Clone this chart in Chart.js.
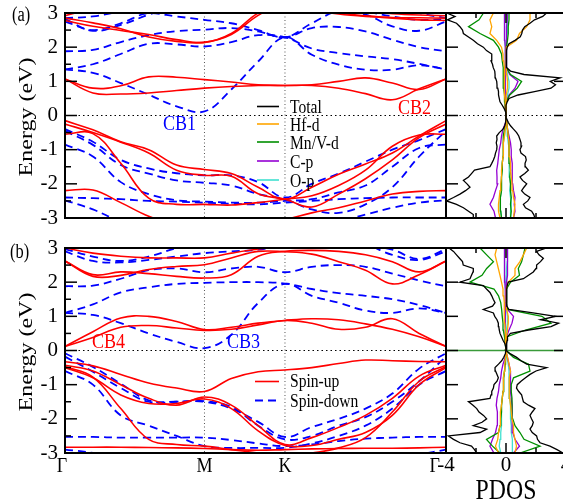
<!DOCTYPE html>
<html>
<head>
<meta charset="utf-8">
<script src="https://cdn.jsdelivr.net/npm/chart.js@4.4.1/dist/chart.umd.min.js"></script>
<style>
html, body { margin: 0; padding: 0; width: 563px; height: 502px; overflow: hidden; background: #fff; }
.box { position: absolute; }
.t { position: absolute; font-family: "Liberation Serif", "Times New Roman", serif; white-space: nowrap;
     transform: scaleX(0.82); transform-origin: 0 50%; color: #000; }
.rot { position: absolute; font-family: "Liberation Serif", "Times New Roman", serif; font-size: 24px; line-height: 24px;
       white-space: nowrap; transform: translate(-50%, -50%) rotate(-90deg) scaleY(0.82); }
</style>
</head>
<body>
<div class="box" style="left:0;top:0;width:563px;height:235px"><canvas id="bandA" width="563" height="235"></canvas></div>
<div class="box" style="left:0;top:235px;width:563px;height:267px"><canvas id="bandB" width="563" height="267"></canvas></div>
<div class="box" style="left:426px;top:0;width:140px;height:235px"><canvas id="dosA" width="140" height="235"></canvas></div>
<div class="box" style="left:426px;top:235px;width:140px;height:267px"><canvas id="dosB" width="140" height="267"></canvas></div>

<div class="t" style="left:12px;top:4px;font-size:20px;line-height:20px">(a)</div>
<div class="t" style="left:10px;top:241px;font-size:20px;line-height:20px">(b)</div>
<div class="rot" style="left:25px;top:117px">Energy (eV)</div>
<div class="rot" style="left:25px;top:352px">Energy (eV)</div>

<svg style="position:absolute;left:0;top:0" width="563" height="502">
  <line x1="257" y1="106.5" x2="279" y2="106.5" stroke="#000" stroke-width="1.6"/>
  <line x1="257" y1="124" x2="279" y2="124" stroke="#ffa500" stroke-width="1.6"/>
  <line x1="257" y1="142" x2="279" y2="142" stroke="#008f00" stroke-width="1.6"/>
  <line x1="257" y1="161" x2="279" y2="161" stroke="#9400d3" stroke-width="1.6"/>
  <line x1="257" y1="180" x2="279" y2="180" stroke="#40e0d0" stroke-width="1.6"/>
  <line x1="255" y1="381.5" x2="279" y2="381.5" stroke="#ff0000" stroke-width="1.6"/>
  <line x1="255" y1="400.5" x2="281" y2="400.5" stroke="#0000ff" stroke-width="1.8" stroke-dasharray="8,5"/>
</svg>
<div class="t" style="left:290px;top:97px;font-size:19px;line-height:19px">Total</div>
<div class="t" style="left:290px;top:114.5px;font-size:19px;line-height:19px">Hf-d</div>
<div class="t" style="left:290px;top:132.5px;font-size:19px;line-height:19px">Mn/V-d</div>
<div class="t" style="left:290px;top:151.5px;font-size:19px;line-height:19px">C-p</div>
<div class="t" style="left:290px;top:170.5px;font-size:19px;line-height:19px">O-p</div>
<div class="t" style="left:290px;top:371px;font-size:19px;line-height:19px">Spin-up</div>
<div class="t" style="left:290px;top:390.5px;font-size:19px;line-height:19px">Spin-down</div>

<div class="t" style="left:163px;top:112px;font-size:22px;line-height:22px;color:#0000ff">CB1</div>
<div class="t" style="left:398px;top:95.5px;font-size:22px;line-height:22px;color:#ff0000">CB2</div>
<div class="t" style="left:92px;top:329.5px;font-size:22px;line-height:22px;color:#ff0000">CB4</div>
<div class="t" style="left:227px;top:329.5px;font-size:22px;line-height:22px;color:#0000ff">CB3</div>
<div class="t" style="left:506px;top:474.5px;font-size:29px;line-height:29px;transform:translate(-50%,0) scaleX(0.82);transform-origin:50% 50%">PDOS</div>

<script>
// k-path Γ-M-K-Γ (hexagonal, path length units)
const kPath = [0, 0.1155, 0.2309, 0.3464, 0.4619, 0.5774, 0.6885, 0.7996, 0.9107, 1.0218, 1.1329, 1.2440, 1.3551, 1.4662, 1.5773];
const kLabels = ['Γ', 'M', 'K', 'Γ'];
const kLabelPos = [0, 0.5774, 0.9107, 1.5773];

// (a) spin-up bands
const upA1 = [1.07, 0.66, 0.63, 0.66, 0.73, 0.80, 0.85, 0.88, 0.88, 0.88, 0.80, 0.64, 0.46, 0.78, 1.07];
const upA2 = [1.07, 0.80, 0.87, 1.13, 1.12, 1.05, 0.98, 0.90, 0.88, 0.90, 1.00, 1.10, 0.95, 0.76, 1.07];
const upA3 = [2.85, 2.71, 2.54, 2.30, 2.17, 2.14, 2.37, 2.93, 3.30, 3.10, 2.97, 2.90, 2.87, 2.86, 2.85];
const upA4 = [2.78, 2.61, 2.49, 2.37, 2.22, 2.14, 2.40, 3.00, 3.30, 3.15, 3.00, 2.92, 2.85, 2.80, 2.78];
const upA5 = [2.92, 3.15, 3.40, 3.50, 3.50, 3.50, 3.50, 3.50, 3.50, 3.40, 3.20, 3.05, 2.98, 2.94, 2.92];
const upA6 = [-0.15, -0.42, -0.77, -1.00, -1.45, -1.58, -1.70, -2.10, -2.45, -2.10, -1.72, -1.42, -1.10, -0.60, -0.15];
const upA7 = [-0.25, -0.50, -0.78, -1.10, -1.60, -1.75, -1.78, -2.29, -2.45, -2.68, -2.30, -1.85, -1.30, -0.65, -0.25];
const upA8 = [-0.55, -0.53, -1.40, -2.42, -2.60, -2.60, -2.62, -2.55, -2.45, -2.35, -2.05, -1.60, -0.90, -0.57, -0.55];
const upA9 = [-2.20, -2.18, -2.55, -2.95, -3.20, -3.30, -3.30, -3.20, -3.05, -2.85, -2.70, -2.50, -2.30, -2.22, -2.20];

// (a) spin-down bands
const dnA1 = [1.35, 1.25, 0.95, 0.61, 0.27, 0.12, 0.76, 1.58, 2.29, 1.78, 1.49, 1.34, 1.34, 1.47, 1.35];
const dnA2 = [1.88, 1.92, 2.15, 2.35, 2.47, 2.51, 2.56, 2.46, 2.29, 2.56, 2.59, 2.46, 2.22, 2.00, 1.88];
const dnA3 = [1.35, 1.50, 1.80, 2.10, 2.08, 2.02, 2.15, 2.35, 2.29, 1.96, 1.83, 1.73, 1.65, 1.51, 1.35];
const dnA4 = [2.75, 2.50, 2.70, 3.00, 2.90, 2.80, 2.70, 2.50, 2.29, 2.70, 3.05, 2.95, 2.61, 2.48, 2.75];
const dnA5 = [2.82, 2.48, 2.65, 2.95, 3.20, 3.30, 3.40, 3.40, 3.40, 3.30, 3.20, 3.05, 2.90, 2.80, 2.82];
const dnA6 = [2.85, 2.90, 3.05, 3.20, 3.30, 3.30, 3.30, 3.30, 3.30, 3.30, 3.30, 3.30, 3.20, 3.00, 2.85];
const dnA7 = [-0.40, -0.77, -1.30, -1.55, -1.69, -1.75, -1.75, -1.95, -2.40, -2.00, -1.70, -1.35, -1.00, -0.72, -0.40];
const dnA8 = [-0.45, -0.86, -1.45, -1.70, -1.90, -1.97, -2.05, -2.30, -2.45, -2.75, -2.85, -2.60, -2.10, -1.20, -0.45];
const dnA9 = [-0.85, -1.20, -1.95, -2.30, -2.48, -2.52, -2.55, -2.55, -2.50, -2.45, -2.25, -2.05, -1.50, -0.95, -0.85];
const dnA10 = [-2.40, -2.42, -2.45, -2.50, -2.52, -2.55, -2.58, -2.60, -2.55, -2.50, -2.45, -2.42, -2.40, -2.40, -2.40];
const dnA11 = [-2.48, -2.75, -3.10, -3.30, -3.30, -3.30, -3.30, -3.20, -3.10, -3.20, -3.10, -2.90, -2.70, -2.55, -2.48];

// (b) spin-up bands
const upB1 = [0.12, 0.55, 0.95, 1.00, 0.85, 0.61, 0.68, 0.80, 0.88, 0.93, 0.90, 0.78, 0.62, 0.40, 0.12];
const upB2 = [0.12, 0.38, 0.68, 0.73, 0.66, 0.59, 0.62, 0.75, 0.88, 0.80, 0.62, 0.68, 0.93, 0.50, 0.12];
const upB3 = [3.00, 2.85, 2.76, 2.71, 2.71, 2.71, 2.85, 2.97, 3.05, 3.10, 3.15, 3.20, 3.10, 3.05, 3.00];
const upB4 = [2.62, 2.17, 2.20, 2.37, 2.46, 2.51, 2.71, 2.90, 2.89, 2.82, 2.60, 2.35, 1.95, 2.22, 2.62];
const upB5 = [2.62, 2.22, 2.30, 2.25, 2.17, 2.12, 2.22, 2.76, 2.90, 2.93, 2.90, 2.80, 2.60, 2.30, 2.62];
const upB6 = [-0.33, -0.45, -0.70, -0.95, -1.10, -1.20, -0.82, -0.62, -0.57, -0.50, -0.38, -0.28, -0.30, -0.32, -0.33];
const upB7 = [-0.43, -0.60, -1.00, -1.40, -1.60, -1.36, -1.60, -2.20, -2.75, -2.55, -2.25, -1.90, -1.40, -0.75, -0.43];
const upB8 = [-0.50, -0.80, -1.30, -1.55, -1.55, -1.42, -1.70, -2.35, -2.78, -2.78, -2.60, -2.40, -1.90, -1.00, -0.50];
const upB9 = [-0.47, -0.78, -1.70, -2.60, -2.75, -2.80, -2.90, -3.00, -3.10, -3.00, -2.85, -2.55, -1.80, -0.90, -0.47];
const upB10 = [-2.83, -2.83, -2.83, -2.84, -2.85, -2.87, -2.90, -2.92, -2.90, -2.88, -2.87, -2.86, -2.86, -2.85, -2.83];

// (b) spin-down bands
const dnB1 = [1.10, 1.04, 0.80, 0.50, 0.25, 0.07, 0.46, 1.39, 1.95, 1.60, 1.40, 1.17, 1.10, 1.23, 1.10];
const dnB2 = [1.10, 1.35, 1.70, 1.85, 1.95, 1.98, 2.00, 2.00, 1.96, 1.80, 1.68, 1.60, 1.50, 1.33, 1.10];
const dnB3 = [1.88, 1.90, 2.10, 2.35, 2.40, 2.29, 2.40, 2.45, 2.29, 2.45, 2.50, 2.45, 2.25, 2.05, 1.88];
const dnB4 = [2.97, 2.75, 2.62, 2.75, 3.00, 3.20, 3.20, 3.20, 3.20, 3.20, 3.20, 3.10, 2.95, 2.68, 2.97];
const dnB5 = [2.90, 2.62, 2.58, 2.65, 2.75, 2.85, 2.90, 2.95, 3.10, 3.20, 3.20, 3.10, 2.80, 2.65, 2.90];
const dnB6 = [-0.08, -0.48, -0.97, -1.46, -1.50, -1.50, -1.70, -2.09, -2.53, -2.24, -2.00, -1.70, -1.26, -0.53, -0.08];
const dnB7 = [-0.18, -0.62, -1.10, -1.50, -1.50, -1.48, -1.65, -2.20, -2.60, -2.50, -2.20, -1.95, -1.50, -0.90, -0.18];
const dnB8 = [-0.60, -1.00, -1.90, -2.20, -2.50, -2.80, -2.85, -2.85, -2.85, -2.72, -2.50, -2.20, -1.70, -1.00, -0.60];
const dnB9 = [-2.53, -2.53, -2.55, -2.55, -2.55, -2.55, -2.62, -2.72, -2.80, -2.75, -2.65, -2.58, -2.55, -2.53, -2.53];
const dnB10 = [-2.90, -3.00, -3.20, -3.30, -3.30, -3.30, -3.30, -3.30, -3.30, -3.30, -3.30, -3.30, -3.20, -3.05, -2.90];

// PDOS energy grids
const eFine = [-3.0, -2.9, -2.8, -2.7, -2.6, -2.5, -2.4, -2.3, -2.2, -2.1,
  -2.0, -1.9, -1.8, -1.7, -1.6, -1.5, -1.4, -1.3, -1.2, -1.1,
  -1.0, -0.9, -0.8, -0.7, -0.6, -0.5, -0.4, -0.3, -0.2, -0.1,
  0, 0.1, 0.2, 0.3, 0.4, 0.5, 0.6, 0.7, 0.8, 0.9,
  1.0, 1.1, 1.2, 1.3, 1.4, 1.5, 1.6, 1.7, 1.8, 1.9,
  2.0, 2.1, 2.2, 2.3, 2.4, 2.5, 2.6, 2.7, 2.8, 2.9, 3.0];
const eCoarse = [-3.0, -2.8, -2.6, -2.4, -2.2, -2.0, -1.8, -1.6, -1.4, -1.2, -1.0, -0.8, -0.6, -0.4, -0.2,
  0, 0.2, 0.4, 0.6, 0.8, 1.0, 1.2, 1.4, 1.6, 1.8, 2.0, 2.2, 2.4, 2.6, 2.8, 3.0];

// (a) total DOS, spin-up (+) and spin-down (-)
const totUpA = [1.93, 1.85, 1.71, 1.30, 1.16, 1.45, 1.60, 1.25, 1.04, 1.20,
  1.38, 1.10, 0.93, 1.25, 1.49, 1.30, 1.27, 1.35, 1.30, 1.00,
  0.93, 1.04, 1.00, 0.93, 0.85, 0.71, 0.50, 0.30, 0.15, 0.05,
  0, 0, 0, 0, 0.08, 0.20, 0.80, 1.90, 3.00, 3.30,
  2.95, 3.60, 1.20, 0.30, 0.05, 0.03, 0.03, 0.03, 0.04, 0.05,
  0.08, 0.20, 0.60, 0.95, 1.05, 1.10, 1.25, 1.60, 1.90, 2.45, 2.70];
const totDnA = [-2.20, -2.18, -2.50, -2.84, -3.30, -3.96, -3.50, -3.07, -2.70, -2.40,
  -2.60, -2.84, -2.50, -2.30, -2.10, -1.07, -0.95, -0.84, -0.75, -0.70,
  -0.62, -0.60, -0.65, -0.60, -0.62, -0.45, -0.20, -0.08, -0.03, 0,
  0, -0.02, -0.12, -0.25, -0.40, -0.45, -0.50, -0.50, -0.55, -0.60,
  -0.62, -0.70, -0.73, -0.75, -0.85, -0.90, -1.00, -0.95, -0.95, -1.30,
  -1.51, -1.90, -2.18, -2.50, -2.84, -2.90, -3.07, -3.30, -3.90, -3.40, -3.96];
// (a) projected DOS
const hfUpA = [0.5, 0.55, 0.6, 0.5, 0.45, 0.4, 0.35, 0.3, 0.3, 0.25, 0.2, 0.2, 0.15, 0.1, 0.05, 0, 0, 0, 0.05, 0.1, 0.1, 0.05, 0.02, 0.02, 0.02, 0.03, 0.7, 0.9, 1.38, 1.6, 1.6];
const hfDnA = [-0.4, -0.5, -0.5, -0.45, -0.4, -0.35, -0.3, -0.3, -0.25, -0.2, -0.2, -0.15, -0.1, -0.05, 0, 0, -0.02, -0.05, -0.1, -0.1, -0.1, -0.1, -0.12, -0.15, -0.2, -0.3, -0.62, -1.07, -0.95, -1.07, -0.84];
const mnUpA = [0.3, 0.35, 0.3, 0.35, 0.3, 0.3, 0.25, 0.3, 0.25, 0.2, 0.2, 0.2, 0.15, 0.1, 0.05, 0, 0, 0.03, 0.25, 0.75, 1.04, 0.3, 0.03, 0.02, 0.02, 0.03, 0.1, 0.15, 0.15, 0.2, 0.2];
const mnDnA = [-0.3, -0.35, -0.4, -0.35, -0.3, -0.3, -0.3, -0.25, -0.25, -0.2, -0.2, -0.2, -0.15, -0.1, 0, 0, -0.05, -0.08, -0.1, -0.15, -0.15, -0.2, -0.2, -0.25, -0.3, -0.5, -0.84, -1.73, -2.5, -1.8, -1.5];
const cpUpA = [0.5, 0.6, 0.55, 0.6, 0.5, 0.45, 0.4, 0.45, 0.4, 0.35, 0.35, 0.3, 0.2, 0.1, 0.05, 0, 0, 0.03, 0.2, 0.6, 0.8, 0.25, 0.03, 0.02, 0.02, 0.02, 0.05, 0.05, 0.05, 0.08, 0.08];
const cpDnA = [-0.7, -0.8, -1.07, -0.84, -0.7, -0.55, -0.6, -0.62, -0.55, -0.5, -0.45, -0.35, -0.3, -0.2, -0.02, 0, -0.02, -0.03, -0.04, -0.05, -0.05, -0.05, -0.05, -0.05, -0.05, -0.05, -0.08, -0.1, -0.1, -0.1, -0.1];
const opUpA = [0.3, 0.3, 0.35, 0.3, 0.25, 0.3, 0.25, 0.25, 0.2, 0.2, 0.2, 0.15, 0.1, 0.08, 0.03, 0, 0, 0.02, 0.1, 0.2, 0.2, 0.1, 0.02, 0.02, 0.02, 0.03, 0.05, 0.08, 0.08, 0.1, 0.1];
const opDnA = [-0.3, -0.35, -0.4, -0.35, -0.3, -0.3, -0.3, -0.25, -0.25, -0.2, -0.2, -0.15, -0.1, -0.05, 0, 0, -0.02, -0.02, -0.03, -0.03, -0.03, -0.04, -0.04, -0.05, -0.05, -0.05, -0.08, -0.08, -0.1, -0.1, -0.1];

// (b) total DOS
const totUpB = [3.80, 3.40, 2.93, 2.27, 2.10, 2.04, 1.75, 1.60, 1.75, 1.82,
  1.70, 1.60, 1.75, 1.93, 1.50, 1.16, 1.10, 1.04, 0.85, 0.70,
  0.75, 1.00, 1.30, 1.60, 2.00, 2.71, 1.38, 1.00, 0.71, 0.30,
  0, 0.02, 0.05, 0.08, 0.10, 0.30, 1.50, 3.00, 3.50, 2.30,
  3.30, 1.80, 0.20, 0.05, 0.04, 0.04, 0.05, 0.05, 0.06, 0.08,
  0.15, 1.16, 1.50, 1.82, 2.00, 2.04, 2.30, 2.49, 2.20, 2.04, 2.70];
const totDnB = [-1.95, -2.10, -2.30, -3.07, -3.50, -3.84, -1.73, -1.29, -2.18, -1.60,
  -1.29, -1.50, -1.80, -1.95, -2.20, -2.50, -1.07, -1.00, -0.95, -0.84,
  -0.80, -0.60, -0.51, -0.60, -0.70, -0.73, -0.50, -0.29, -0.15, -0.05,
  0, -0.02, -0.07, -0.20, -0.30, -0.40, -0.45, -0.48, -0.51, -0.60,
  -0.75, -0.84, -1.51, -0.90, -0.73, -0.85, -0.95, -1.07, -1.30, -1.51,
  -3.07, -2.40, -2.30, -2.20, -2.18, -2.85, -2.90, -3.10, -3.30, -3.50, -3.80];
// (b) projected DOS
const hfUpB = [0.6, 0.7, 0.6, 0.5, 0.5, 0.4, 0.35, 0.3, 0.25, 0.2, 0.2, 0.25, 0.3, 0.2, 0.1, 0, 0.02, 0.03, 0.1, 0.15, 0.15, 0.05, 0.02, 0.02, 0.03, 0.15, 0.6, 0.6, 0.93, 1.16, 1.38];
const hfDnB = [-0.5, -0.7, -0.55, -0.5, -0.4, -0.4, -0.35, -0.3, -0.25, -0.2, -0.2, -0.15, -0.1, -0.08, -0.03, 0, -0.02, -0.03, -0.05, -0.08, -0.1, -0.12, -0.12, -0.15, -0.2, -0.3, -0.4, -0.51, -0.62, -0.73, -0.62];
const mnUpB = [0.93, 2.27, 1.2, 0.93, 0.6, 0.45, 0.4, 0.4, 0.4, 0.35, 0.35, 0.5, 1.6, 1.5, 0.5, 0, 0.02, 0.05, 1.3, 3.0, 2.4, 0.1, 0.02, 0.02, 0.05, 0.3, 0.9, 0.82, 1.04, 1.16, 1.27];
const mnDnB = [-0.4, -0.9, -1.3, -0.5, -0.4, -0.35, -0.3, -0.3, -0.25, -0.2, -0.15, -0.15, -0.1, -0.05, -0.03, 0, -0.05, -0.1, -0.18, -0.2, -0.25, -0.29, -0.35, -0.5, -0.8, -2.4, -1.6, -1.29, -0.84, -1.29, -1.73];
const cpUpB = [0.5, 0.9, 0.6, 0.45, 0.45, 0.4, 0.4, 0.4, 0.35, 0.3, 0.3, 0.3, 0.3, 0.2, 0.1, 0, 0.02, 0.05, 0.2, 0.4, 0.5, 0.1, 0.02, 0.02, 0.02, 0.05, 0.1, 0.1, 0.1, 0.1, 0.1];
const cpDnB = [-0.8, -1.07, -0.9, -0.7, -0.6, -0.55, -0.6, -0.65, -0.6, -0.5, -0.45, -0.35, -0.3, -0.2, -0.05, 0, -0.02, -0.03, -0.04, -0.05, -0.05, -0.05, -0.05, -0.05, -0.05, -0.08, -0.1, -0.1, -0.1, -0.1, -0.1];
const opUpB = [0.4, 0.45, 0.4, 0.35, 0.35, 0.3, 0.3, 0.3, 0.25, 0.2, 0.2, 0.2, 0.2, 0.15, 0.05, 0, 0.01, 0.02, 0.05, 0.1, 0.1, 0.03, 0.02, 0.02, 0.02, 0.03, 0.05, 0.06, 0.08, 0.1, 0.1];
const opDnB = [-0.35, -0.45, -0.4, -0.35, -0.3, -0.3, -0.3, -0.3, -0.25, -0.2, -0.2, -0.15, -0.1, -0.08, -0.02, 0, -0.01, -0.02, -0.02, -0.03, -0.03, -0.03, -0.04, -0.05, -0.05, -0.05, -0.08, -0.08, -0.1, -0.1, -0.1];

const FONT = 'Liberation Serif';
const RED = '#ff0000', BLUE = '#0000ff';
const C_TOT = '#000000', C_HF = '#ffa500', C_MN = '#008f00', C_CP = '#9400d3', C_OP = '#40e0d0';

function seg(ctx, x1, y1, x2, y2) {
  ctx.beginPath();
  ctx.moveTo(x1, y1);
  ctx.lineTo(x2, y2);
  ctx.stroke();
}

// dotted guide lines, inward ticks, frame and k-point labels
const bandDecor = {
  id: 'bandDecor',
  beforeDatasetsDraw(chart) {
    const ctx = chart.ctx, a = chart.chartArea, xs = chart.scales.x, ys = chart.scales.y;
    ctx.save();
    ctx.lineWidth = 1;
    ctx.strokeStyle = '#000';
    ctx.setLineDash([1.5, 3]);
    const y0 = ys.getPixelForValue(0);
    seg(ctx, a.left, y0, a.right, y0);
    ctx.strokeStyle = '#555';
    ctx.setLineDash([1, 2.5]);
    [kLabelPos[1], kLabelPos[2]].forEach(function(k) {
      const px = xs.getPixelForValue(k);
      seg(ctx, px, a.top, px, a.bottom);
    });
    ctx.restore();
  },
  afterDatasetsDraw(chart, args, opts) {
    const ctx = chart.ctx, a = chart.chartArea, xs = chart.scales.x, ys = chart.scales.y;
    ctx.save();
    ctx.strokeStyle = '#000';
    ctx.lineWidth = 1.5;
    for (let e = -3; e <= 3; e += 0.5) {
      const py = ys.getPixelForValue(e);
      const len = Number.isInteger(e) ? 12 : 6;
      seg(ctx, a.left, py, a.left + len, py);
    }
    ctx.lineWidth = 2;
    ctx.strokeRect(a.left, a.top, a.right - a.left, a.bottom - a.top);
    if (opts.labels) {
      ctx.fillStyle = '#000';
      ctx.font = '22px "' + FONT + '"';
      ctx.textBaseline = 'middle';
      const shift = [-3, 0, 0, -6];
      kLabels.forEach(function(lab, i) {
        const px = xs.getPixelForValue(kLabelPos[i]) + shift[i];
        ctx.save();
        ctx.translate(px, a.bottom + 13);
        ctx.scale(0.82, 1);
        ctx.textAlign = i === kLabels.length - 1 ? 'right' : 'center';
        ctx.fillText(lab, 0, 0);
        ctx.restore();
      });
    }
    ctx.restore();
  }
};

const dosDecor = {
  id: 'dosDecor',
  beforeDatasetsDraw(chart, args, opts) {
    const ctx = chart.ctx, a = chart.chartArea, ys = chart.scales.y;
    ctx.save();
    const y0 = ys.getPixelForValue(0);
    ctx.strokeStyle = opts.zeroColor;
    ctx.lineWidth = opts.zeroWidth;
    ctx.setLineDash(opts.zeroDash);
    seg(ctx, a.left, y0, a.right, y0);
    ctx.restore();
  },
  afterDatasetsDraw(chart) {
    const ctx = chart.ctx, a = chart.chartArea, xs = chart.scales.x, ys = chart.scales.y;
    ctx.save();
    ctx.strokeStyle = '#000';
    ctx.lineWidth = 1.5;
    for (let e = -3; e <= 3; e += 1) {
      const py = ys.getPixelForValue(e);
      seg(ctx, a.left, py, a.left + 12, py);
      seg(ctx, a.right, py, a.right - 12, py);
    }
    [-2, 0, 2].forEach(function(v) {
      const px = xs.getPixelForValue(v);
      const len = v === 0 ? 10 : 5;
      seg(ctx, px, a.top, px, a.top + len);
      seg(ctx, px, a.bottom, px, a.bottom - len);
    });
    ctx.lineWidth = 2;
    ctx.strokeRect(a.left, a.top, a.right - a.left, a.bottom - a.top);
    ctx.restore();
  }
};

function bandSets(up, dn) {
  const sets = [];
  up.forEach(function(b) {
    sets.push({
      data: kPath.map(function(k, i) { return { x: k, y: b[i] }; }),
      borderColor: RED, borderWidth: 1.6, pointRadius: 0, tension: 0.4, fill: false
    });
  });
  dn.forEach(function(b) {
    sets.push({
      data: kPath.map(function(k, i) { return { x: k, y: b[i] }; }),
      borderColor: BLUE, borderWidth: 1.8, borderDash: [8, 5], pointRadius: 0, tension: 0.4, fill: false
    });
  });
  return sets;
}

function makeBand(id, up, dn, xHeight, showLabels) {
  return new Chart(document.getElementById(id), {
    type: 'line',
    data: { datasets: bandSets(up, dn) },
    options: {
      responsive: false,
      animation: false,
      events: [],
      layout: { padding: { top: 13, right: 117, bottom: 0, left: 0 }, autoPadding: false },
      scales: {
        x: {
          type: 'linear', min: 0, max: kLabelPos[3],
          ticks: { display: false }, grid: { display: false, drawTicks: false }, border: { display: false },
          afterFit: function(s) { s.height = xHeight; s.paddingLeft = 0; s.paddingRight = 0; }
        },
        y: {
          min: -3, max: 3,
          ticks: { stepSize: 1, color: '#000', padding: 7, font: { family: FONT, size: 21 } },
          grid: { display: false, drawTicks: false }, border: { display: false },
          afterFit: function(s) { s.width = 65; s.paddingTop = 0; s.paddingBottom = 0; }
        }
      },
      plugins: { legend: { display: false }, tooltip: { enabled: false }, bandDecor: { labels: showLabels } }
    },
    plugins: [bandDecor]
  });
}

function dosSets(grid, up, dn, color) {
  return [up, dn].map(function(vals) {
    return {
      data: grid.map(function(e, i) { return { x: vals[i], y: e }; }),
      borderColor: color, borderWidth: 1.3, pointRadius: 0, showLine: true, tension: 0
    };
  });
}

function makeDos(id, parts, showX, zero) {
  const sets = [].concat(
    dosSets(eFine, parts.totUp, parts.totDn, C_TOT),
    dosSets(eCoarse, parts.hfUp, parts.hfDn, C_HF),
    dosSets(eCoarse, parts.mnUp, parts.mnDn, C_MN),
    dosSets(eCoarse, parts.cpUp, parts.cpDn, C_CP),
    dosSets(eCoarse, parts.opUp, parts.opDn, C_OP)
  );
  return new Chart(document.getElementById(id), {
    type: 'scatter',
    data: { datasets: sets },
    options: {
      responsive: false,
      animation: false,
      events: [],
      layout: { padding: { top: 13, right: 0, bottom: showX ? 0 : 17, left: 20 }, autoPadding: false },
      scales: {
        x: {
          type: 'linear', min: -4, max: 4, display: showX,
          ticks: { stepSize: 4, color: '#000', padding: 0, font: { family: FONT, size: 21 } },
          grid: { display: false, drawTicks: false }, border: { display: false },
          afterFit: function(s) { s.height = showX ? 49 : 0; s.paddingLeft = 0; s.paddingRight = 0; }
        },
        y: { min: -3, max: 3, display: false }
      },
      plugins: { legend: { display: false }, tooltip: { enabled: false }, dosDecor: zero }
    },
    plugins: [dosDecor]
  });
}

makeBand('bandA', [upA1, upA2, upA3, upA4, upA5, upA6, upA7, upA8, upA9],
  [dnA1, dnA2, dnA3, dnA4, dnA5, dnA6, dnA7, dnA8, dnA9, dnA10, dnA11], 17, false);
makeBand('bandB', [upB1, upB2, upB3, upB4, upB5, upB6, upB7, upB8, upB9, upB10],
  [dnB1, dnB2, dnB3, dnB4, dnB5, dnB6, dnB7, dnB8, dnB9, dnB10], 49, true);

makeDos('dosA', { totUp: totUpA, totDn: totDnA, hfUp: hfUpA, hfDn: hfDnA, mnUp: mnUpA, mnDn: mnDnA,
  cpUp: cpUpA, cpDn: cpDnA, opUp: opUpA, opDn: opDnA }, false,
  { zeroColor: '#000', zeroWidth: 1, zeroDash: [1.5, 3] });
makeDos('dosB', { totUp: totUpB, totDn: totDnB, hfUp: hfUpB, hfDn: hfDnB, mnUp: mnUpB, mnDn: mnDnB,
  cpUp: cpUpB, cpDn: cpDnB, opUp: opUpB, opDn: opDnB }, true,
  { zeroColor: '#3a9a3a', zeroWidth: 1.5, zeroDash: [] });
</script>
</body>
</html>
